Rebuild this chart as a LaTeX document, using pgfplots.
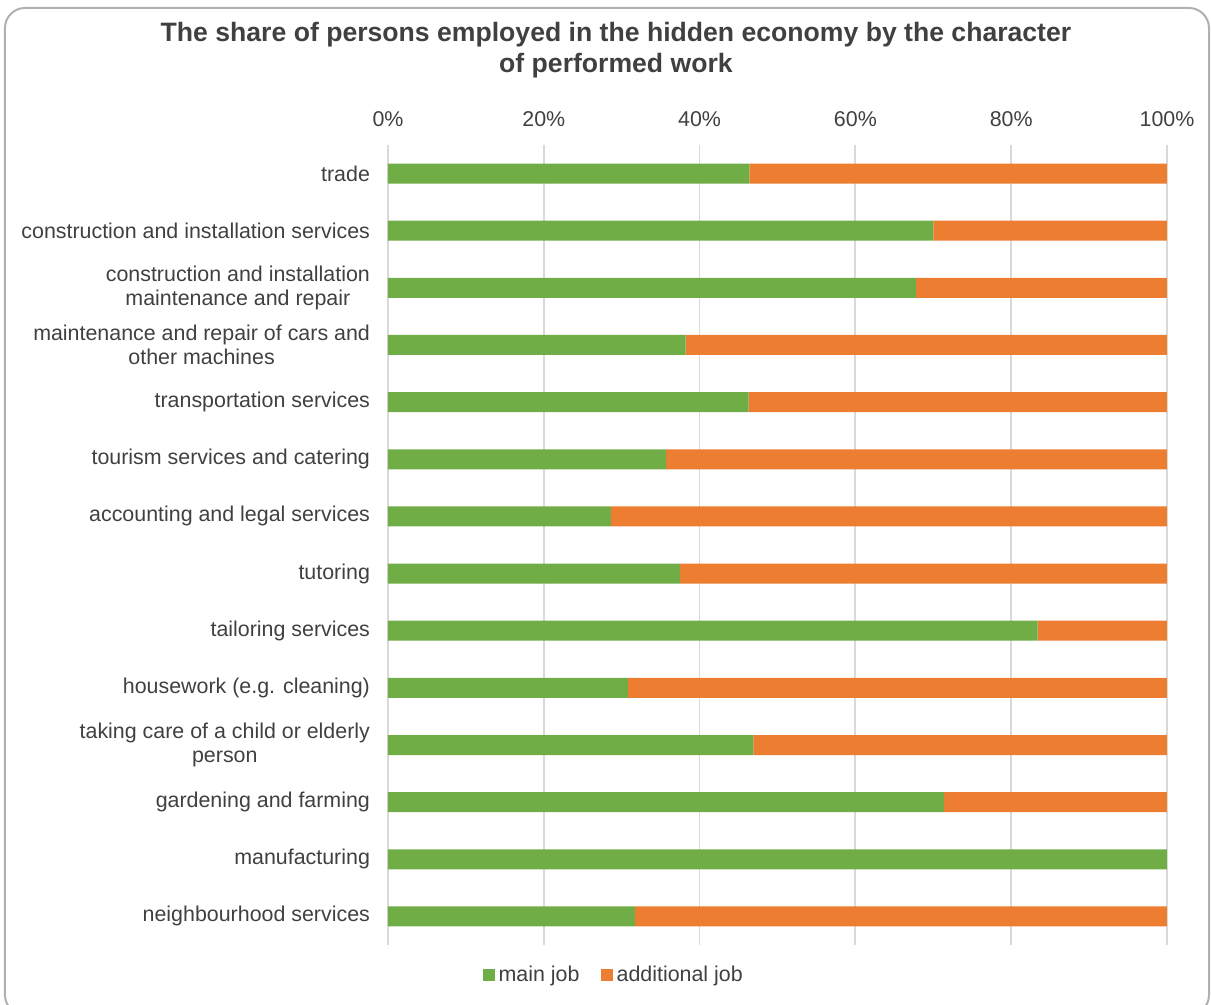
\documentclass[border=0pt]{standalone}
\usepackage{pgfplots}
\pgfplotsset{compat=1.18}
\usepackage{pgfplotstable}
\usepackage{fontspec}
\setmainfont{Liberation Sans}

\definecolor{mainjob}{HTML}{70AD47}
\definecolor{addjob}{HTML}{ED7D31}
\definecolor{txt}{HTML}{404040}
\definecolor{gridc}{HTML}{D9D9D9}
\definecolor{framec}{HTML}{B0B0B0}

% share (in %) of persons working in the hidden economy: main vs additional job
\pgfplotstableread{
idx main additional
0  46.4 53.6
1  70.0 30.0
2  67.8 32.2
3  38.2 61.8
4  46.3 53.7
5  35.7 64.3
6  28.6 71.4
7  37.5 62.5
8  83.4 16.6
9  30.8 69.2
10 46.9 53.1
11 71.4 28.6
12 100.0 0.0
13 31.7 68.3
}\shares

\begin{document}
\begin{tikzpicture}[x=0.5pt,y=0.5pt]
% page: 1211 x 1005 units, axis origin at (388,945) from top-left
\useasboundingbox (-388,-60) rectangle (823,945);
\draw[framec, line width=1pt, rounded corners=10pt] (-383,-70) rectangle (821,937);
\begin{axis}[
  at={(0,0)}, anchor=south west,
  scale only axis,
  width=389.5pt, height=400pt,
  xbar stacked,
  bar width=10pt,
  xmin=0, xmax=100,
  ymin=-0.5, ymax=13.5,
  y dir=reverse,
  axis line style={draw=none},
  xtick={0,20,...,100},
  xticklabel={\pgfmathprintnumber{\tick}\%},
  xticklabel pos=right,
  xmajorgrids,
  major grid style={gridc, line width=0.9pt},
  tick style={draw=none},
  ytick={0,...,13},
  yticklabels={
    trade,
    construction and installation services,
    {construction and installation\\maintenance and repair},
    {maintenance and repair of cars and\\other machines},
    transportation services,
    tourism services and catering,
    accounting and legal services,
    tutoring,
    tailoring services,
    housework (e.g. cleaning),
    {taking care of a child or elderly\\person},
    gardening and farming,
    manufacturing,
    neighbourhood services},
  yticklabel style={align=center, font=\fontsize{10.7}{12}\selectfont, text=txt, xshift=-5.5pt},
  xticklabel style={font=\fontsize{10.7}{12}\selectfont, text=txt, yshift=5.5pt},
  /pgf/number format/assume math mode=true,
  legend style={
    at={(0.2915,-0.0375)}, anchor=center,
    draw=none, legend columns=2,
    font=\fontsize{10.7}{12}\selectfont, text=txt,
    /tikz/every even column/.append style={column sep=9pt}},
  legend image code/.code={\fill[#1] (0pt,-2.8pt) rectangle (5.6pt,2.8pt);},
]
\addplot[fill=mainjob, draw=none] table[x=main, y=idx] {\shares};
\addplot[fill=addjob, draw=none] table[x=additional, y=idx] {\shares};
\legend{main job, additional job}
\end{axis}
\node[text=txt, font=\bfseries\fontsize{13.3}{15.5}\selectfont, align=center] at (228,895) {The share of persons employed in the hidden economy by the character\\of performed work};
\end{tikzpicture}
\end{document}
